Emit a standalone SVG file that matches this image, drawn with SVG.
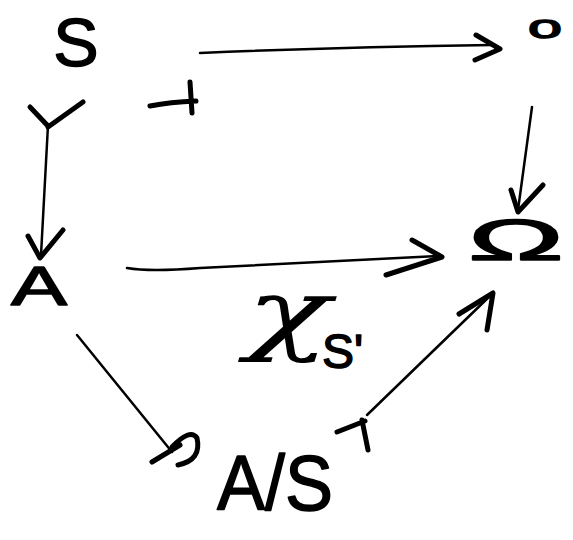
<svg xmlns="http://www.w3.org/2000/svg" width="573" height="540" viewBox="0 0 573 540">
<style>
.lbl{font-family:"Liberation Sans","DejaVu Sans",sans-serif;fill:#000;stroke:#000;stroke-width:1.5;stroke-linejoin:round}
.ln{fill:none;stroke:#000;stroke-width:2.5;stroke-linecap:round;stroke-linejoin:round}
.hd{fill:none;stroke:#000;stroke-width:5;stroke-linecap:round;stroke-linejoin:round}
</style>
<rect width="573" height="540" fill="#fff"/>
<g id="node-S"><text class="lbl" x="76" y="66" font-size="68" text-anchor="middle">S</text></g>
<g id="node-1"><text class="lbl" x="545" y="38" font-size="34" text-anchor="middle" textLength="34" lengthAdjust="spacingAndGlyphs">o</text></g>
<g id="node-A"><text class="lbl" x="39" y="305" font-size="56" text-anchor="middle" textLength="56" lengthAdjust="spacingAndGlyphs">A</text></g>
<g id="node-Omega"><text class="lbl" x="516" y="260" font-size="58" text-anchor="middle" textLength="96" lengthAdjust="spacingAndGlyphs">Ω</text></g>
<g id="node-AS"><text class="lbl" x="275" y="510" font-size="78" text-anchor="middle" textLength="116" lengthAdjust="spacingAndGlyphs">A/S</text></g>
<g id="label-chi">
<text x="288" y="343" font-family="DejaVu Serif, Liberation Serif, serif" font-style="italic" font-size="90" fill="#000" text-anchor="middle" textLength="84" lengthAdjust="spacingAndGlyphs">χ</text>
<text class="lbl" x="322" y="368" font-size="48">S'</text>
</g>
<g id="connectors">
<path class="ln" d="M200 53 Q340 47 492 45"/>
<path class="hd" d="M476 35 L500 49 L475 60"/>
<path class="hd" d="M150 106 Q170 102 196 101 M190 82 L192 113"/>
<path class="hd" d="M30 107 L48 126 M83 102 L48 127"/>
<path class="ln" d="M48 125 L41 255"/>
<path class="hd" d="M28 236 L40 258 L63 230"/>
<path class="ln" d="M127 268 Q150 272 200 268 L438 256"/>
<path class="hd" d="M412 240 L442 257 L386 275"/>
<path class="ln" d="M532 107 L518 210"/>
<path class="hd" d="M511 190 L518 212 L543 185"/>
<path class="ln" d="M77 335 L172 452"/>
<path class="hd" d="M152 462 L180 445 M172 447 Q190 428 197 438 Q202 460 178 465"/>
<path class="hd" d="M337 432 L365 421 M362 420 L368 450"/>
<path class="ln" d="M367 415 L492 294"/>
<path class="hd" d="M459 314 L493 293 L487 330"/>
</g>
</svg>
